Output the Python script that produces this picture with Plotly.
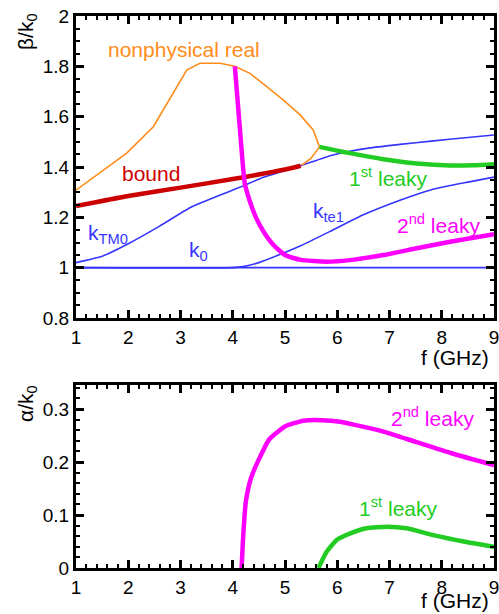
import plotly.graph_objects as go

# ---------------- data (top panel: beta/k0) ----------------
k0_f = [1, 9]
k0_b = [1, 1]

ktm0_f = [1, 1.5, 2.0, 2.6, 3.2, 3.9, 4.2, 4.6, 5.3, 5.9, 6.6, 7.2, 7.8, 8.5, 9]
ktm0_b = [1.02, 1.045, 1.095, 1.165, 1.24, 1.30, 1.325, 1.36, 1.405, 1.447, 1.475, 1.49, 1.503, 1.517, 1.527]

kte1_f = [1, 4.0, 4.2, 4.5, 4.9, 5.3, 5.9, 6.5, 7.2, 7.8, 8.5, 9]
kte1_b = [1, 1, 1.004, 1.02, 1.052, 1.087, 1.148, 1.21, 1.268, 1.31, 1.34, 1.36]

bound_f = [1, 2, 3, 4, 5, 5.3]
bound_b = [1.245, 1.285, 1.318, 1.352, 1.39, 1.405]

nonphys_f = [1, 1.46, 1.97, 2.48, 2.99, 3.12, 3.37, 3.76, 4.04, 4.33, 4.65, 4.97, 5.29, 5.54, 5.66, 5.58, 5.5, 5.32]
nonphys_b = [1.308, 1.377, 1.455, 1.56, 1.739, 1.785, 1.812, 1.812, 1.8, 1.772, 1.719, 1.666, 1.607, 1.547, 1.48, 1.455, 1.435, 1.407]

leaky1_f = [5.66, 6.0, 6.24, 6.88, 7.52, 8.16, 8.6, 9]
leaky1_b = [1.48, 1.465, 1.455, 1.431, 1.414, 1.406, 1.407, 1.411]

leaky2_f = [4.04, 4.13, 4.23, 4.33, 4.45, 4.6, 4.78, 5.0, 5.3, 5.8, 6.24, 6.88, 7.52, 8.16, 9]
leaky2_b = [1.80, 1.57, 1.335, 1.262, 1.197, 1.14, 1.09, 1.05, 1.031, 1.024, 1.03, 1.05, 1.077, 1.103, 1.133]

# ---------------- data (bottom panel: alpha/k0) ----------------
a2_f = [4.17, 4.2, 4.25, 4.35, 4.5, 4.7, 5.0, 5.35, 5.7, 6.05, 6.9, 7.5, 8.2, 9]
a2_a = [0.0, 0.06, 0.125, 0.17, 0.205, 0.243, 0.267, 0.278, 0.279, 0.276, 0.257, 0.238, 0.216, 0.194]

a1_f = [5.64, 5.8, 5.99, 6.24, 6.56, 6.95, 7.33, 7.84, 8.42, 9]
a1_a = [0.0, 0.031, 0.053, 0.065, 0.075, 0.078, 0.075, 0.062, 0.05, 0.04]

x_ticks = [1, 2, 3, 4, 5, 6, 7, 8, 9]

BLUE = "#3535ff"
ORANGE = "#ff8c1a"
RED = "#cc0000"
GREEN = "#22cc22"
MAGENTA = "#ff00ff"
FONT = "Liberation Sans"
TICK_SIZE = 19
LABEL_SIZE = 21

fig = go.Figure()

def add(x, y, color, width, yaxis="y", shape="spline"):
    line = dict(color=color, width=width, shape=shape)
    if shape == "spline":
        line["smoothing"] = 0.5
    fig.add_trace(go.Scatter(x=x, y=y, mode="lines", xaxis="x" if yaxis == "y" else "x2",
                             yaxis=yaxis, line=line))

add(k0_f, k0_b, BLUE, 1.6, shape="linear")
add(ktm0_f, ktm0_b, BLUE, 1.6)
add(kte1_f, kte1_b, BLUE, 1.6)
add(nonphys_f, nonphys_b, ORANGE, 1.6, shape="linear")
add(bound_f, bound_b, RED, 4.5)
add(leaky1_f, leaky1_b, GREEN, 4.5)
add(leaky2_f, leaky2_b, MAGENTA, 4.5)
add(a2_f, a2_a, MAGENTA, 4.5, yaxis="y2")
add(a1_f, a1_a, GREEN, 4.5, yaxis="y2")

W, H = 499, 614
xdom = [76 / W, 494 / W]
ydom1 = [1 - 318 / H, 1 - 16 / H]
ydom2 = [1 - 568 / H, 1 - 385 / H]


def axis(minor_dtick, **kw):
    d = dict(ticks="inside", ticklen=8, tickwidth=2.5, tickcolor="black",
             showline=True, linewidth=3, linecolor="black",
             mirror="allticks", ticklabeloverflow="allow", automargin=False,
             minor=dict(ticks="inside", dtick=minor_dtick, ticklen=4, tickwidth=1.5, tickcolor="black"),
             showgrid=False, zeroline=False)
    d.update(kw)
    return d


fig.update_layout(
    template="none",
    font=dict(family=FONT, size=TICK_SIZE, color="black"),
    width=W, height=H, margin=dict(l=0, r=0, t=0, b=0),
    showlegend=False,
    xaxis=axis(0.2, domain=xdom, anchor="y", range=[1, 9], tickvals=x_ticks),
    yaxis=axis(0.05, domain=ydom1, anchor="x", range=[0.8, 2], dtick=0.2),
    xaxis2=axis(0.2, domain=xdom, anchor="y2", range=[1, 9], tickvals=x_ticks),
    yaxis2=axis(0.02, domain=ydom2, anchor="x2", range=[0, 0.3453], dtick=0.1),
)


def lab(text, x, y, color, xref="x", yref="y", size=LABEL_SIZE, xanchor="center", **kw):
    fig.add_annotation(text=text, x=x, y=y, xref=xref, yref=yref, showarrow=False,
                       xanchor=xanchor, yanchor="middle",
                       font=dict(family=FONT, size=size, color=color), **kw)


lab("nonphysical real", 3.06, 1.866, ORANGE)
lab("bound", 2.43, 1.375, RED)
lab("k<sub>TM0</sub>", 1.62, 1.135, BLUE)
lab("k<sub>0</sub>", 3.34, 1.065, BLUE)
lab("k<sub>te1</sub>", 5.84, 1.22, BLUE)
lab("1<sup>st</sup> leaky", 6.97, 1.362, GREEN)
lab("2<sup>nd</sup> leaky", 7.93, 1.175, MAGENTA)
lab("2<sup>nd</sup> leaky", 7.83, 0.284, MAGENTA, xref="x2", yref="y2")
lab("1<sup>st</sup> leaky", 7.16, 0.115, GREEN, xref="x2", yref="y2")

# axis titles
lab("β/k<sub>0</sub>", 27 / W, 1 - 32 / H, "black", xref="paper", yref="paper", textangle=-90)
lab("α/k<sub>0</sub>", 27 / W, 1 - 404 / H, "black", xref="paper", yref="paper", textangle=-90)
lab("f (GHz)", 491 / W, 1 - 357 / H, "black", xref="paper", yref="paper", xanchor="right")
lab("f (GHz)", 491 / W, 1 - 600 / H, "black", xref="paper", yref="paper", xanchor="right")

fig.write_html("out.html", config={"displayModeBar": False},
               post_script="document.body.style.margin='0';document.body.style.overflow='hidden';")
